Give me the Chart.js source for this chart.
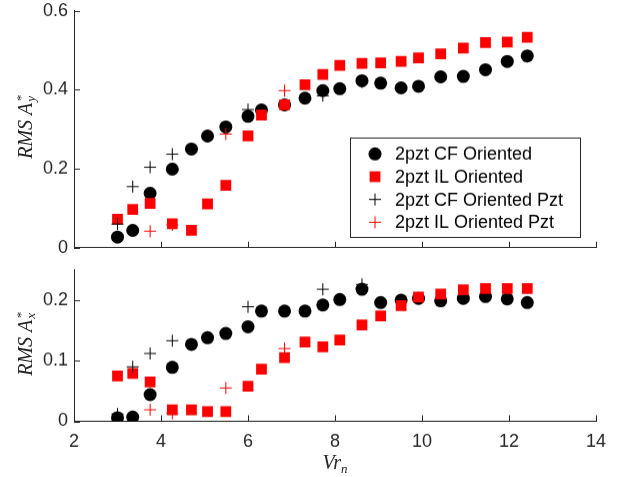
<!DOCTYPE html>
<html>
<head>
<meta charset="utf-8">
<script src="https://cdn.jsdelivr.net/npm/chart.js@4.4.0/dist/chart.umd.min.js"></script>
<style>
  html, body { margin: 0; padding: 0; background: #fff; }
  #wrap { position: relative; width: 621px; height: 477px; overflow: hidden; background: #fff; }
  .panel { position: absolute; left: 0; width: 621px; }
  .ttl { position: absolute; font-family: "Liberation Serif", "DejaVu Serif", serif; font-style: italic;
         font-size: 20px; color: #262626; white-space: nowrap; line-height: 1; }
  .rot { transform: translate(-50%, -50%) rotate(-90deg); }
  .ss { display: inline-block; vertical-align: -3px; font-size: 13px; line-height: 10px; margin-left: 1px; }
  .ss span { display: block; }
  .sub { font-size: 13px; vertical-align: -4px; }
</style>
</head>
<body>
<div id="wrap">
  <div class="panel" style="top:-6.3px;height:272.8px"><canvas id="top"></canvas></div>
  <div class="panel" style="top:253.2px;height:223.8px"><canvas id="bottom"></canvas></div>
  <div class="ttl rot" style="left:25px;top:127px">RMS&nbsp;A<span class="ss"><span>*</span><span>y</span></span></div>
  <div class="ttl rot" style="left:25px;top:344px">RMS&nbsp;A<span class="ss"><span>*</span><span>x</span></span></div>
  <div class="ttl" style="left:235px;width:200px;top:452px;text-align:center">Vr<span class="sub">n</span></div>
</div>
<script>
// x positions (Vr_n) of the main series
const vr = [3.0, 3.35, 3.75, 4.26, 4.70, 5.07, 5.49, 6.0, 6.31, 6.84, 7.31, 7.72, 8.11, 8.62, 9.05, 9.52, 9.92, 10.43, 10.95, 11.46, 11.96, 12.42];

// RMS A*_y (top panel)
const ayCF = [0.027, 0.044, 0.138, 0.199, 0.250, 0.283, 0.306, 0.333, 0.349, 0.362, 0.379, 0.398, 0.403, 0.423, 0.417, 0.405, 0.409, 0.433, 0.434, 0.451, 0.472, 0.486];
const ayIL = [0.072, 0.097, 0.112, 0.061, 0.044, 0.111, 0.158, 0.283, 0.336, 0.362, 0.413, 0.439, 0.462, 0.467, 0.468, 0.472, 0.481, 0.491, 0.506, 0.520, 0.521, 0.533];

// RMS A*_x (bottom panel)
const axCF = [0.006, 0.007, 0.044, 0.089, 0.127, 0.138, 0.145, 0.156, 0.182, 0.182, 0.182, 0.192, 0.201, 0.218, 0.196, 0.200, 0.203, 0.199, 0.203, 0.206, 0.202, 0.196];
const axIL = [0.075, 0.079, 0.065, 0.019, 0.019, 0.016, 0.016, 0.058, 0.086, 0.105, 0.131, 0.123, 0.134, 0.159, 0.174, 0.191, 0.205, 0.210, 0.217, 0.219, 0.219, 0.219];

// Pzt runs
const vrPztCF = [3.0, 3.35, 3.75, 4.26, 6.0, 7.72, 8.62];
const ayPztCF = [0.060, 0.155, 0.204, 0.237, 0.350, 0.385, 0.420];
const axPztCF = [0.012, 0.090, 0.112, 0.133, 0.189, 0.218, 0.226];
const vrPztIL = [3.75, 4.26, 5.49, 6.84];
const ayPztIL = [0.042, 0.058, 0.288, 0.398];
const axPztIL = [0.019, 0.013, 0.055, 0.120];

const seriesNames = ['2pzt CF Oriented', '2pzt IL Oriented', '2pzt CF Oriented Pzt', '2pzt IL Oriented Pzt'];
const xTicks = [2, 4, 6, 8, 10, 12, 14];
const yTicksTop = [0, 0.2, 0.4, 0.6];
const yTicksBottom = [0, 0.1, 0.2];

const AXIS = '#262626';
const FONT = { family: '"Liberation Sans", Arial, sans-serif', size: 18 };

const pts = (xs, ys) => xs.map((x, i) => ({ x, y: ys[i] }));

function makeSets(cf, il, pcf, pil) {
  return [
    { label: seriesNames[0], data: pts(vr, cf), pointStyle: 'circle', pointRadius: 6.5,
      backgroundColor: '#000', borderColor: '#000', borderWidth: 0, order: 4 },
    { label: seriesNames[1], data: pts(vr, il), pointStyle: 'rect', pointRadius: 7.6,
      backgroundColor: '#ff0000', borderColor: '#ff0000', borderWidth: 0, order: 3 },
    { label: seriesNames[2], data: pts(vrPztCF, pcf), pointStyle: 'cross', pointRadius: 6,
      backgroundColor: '#000', borderColor: '#000', borderWidth: 1, order: 2 },
    { label: seriesNames[3], data: pts(vrPztIL, pil), pointStyle: 'cross', pointRadius: 6,
      backgroundColor: '#ff0000', borderColor: '#ff0000', borderWidth: 1, order: 1 }
  ];
}

// MATLAB style inward tick marks
const inTicks = {
  id: 'inTicks',
  beforeDatasetsDraw(chart) {
    const ctx = chart.ctx, a = chart.chartArea, L = 6;
    ctx.save();
    ctx.strokeStyle = AXIS; ctx.lineWidth = 1;
    ctx.beginPath();
    chart.scales.x.ticks.forEach(t => {
      const px = Math.round(chart.scales.x.getPixelForValue(t.value)) + 0.5;
      ctx.moveTo(px, a.bottom); ctx.lineTo(px, a.bottom - L);
    });
    chart.scales.y.ticks.forEach(t => {
      const py = Math.round(chart.scales.y.getPixelForValue(t.value)) + 0.5;
      ctx.moveTo(a.left, py); ctx.lineTo(a.left + L, py);
    });
    ctx.stroke();
    ctx.restore();
  }
};

// boxed legend placed inside the plot area
const boxLegend = {
  id: 'boxLegend',
  afterDraw(chart, args, opts) {
    if (!opts.show) return;
    const ctx = chart.ctx, a = chart.chartArea;
    const x0 = a.left + opts.dx, y0 = a.top + opts.dy;
    ctx.save();
    ctx.fillStyle = '#fff';
    ctx.fillRect(x0, y0, opts.w, opts.h);
    ctx.strokeStyle = AXIS; ctx.lineWidth = 1;
    ctx.strokeRect(Math.round(x0) + 0.5, Math.round(y0) + 0.5, opts.w, opts.h);
    chart.data.datasets.forEach((ds, i) => {
      const cy = y0 + opts.first + i * opts.step;
      ctx.fillStyle = ds.backgroundColor; ctx.strokeStyle = ds.borderColor;
      ctx.lineWidth = ds.borderWidth || 1;
      Chart.helpers.drawPoint(ctx, { pointStyle: ds.pointStyle, radius: ds.pointRadius, rotation: 0,
        borderWidth: ds.borderWidth }, x0 + 25, cy);
      ctx.fillStyle = '#000';
      ctx.font = `${FONT.size}px ${FONT.family}`;
      ctx.textBaseline = 'middle';
      ctx.fillText(ds.label, x0 + 45, cy + 1);
    });
    ctx.restore();
  }
};

function makeChart(id, sets, yMax, yTicks, showX, xHeight, legend) {
  return new Chart(document.getElementById(id), {
    type: 'scatter',
    data: { datasets: sets },
    options: {
      responsive: true, maintainAspectRatio: false, animation: false,
      layout: { padding: { top: 0, right: 25, left: 0, bottom: 0 } },
      plugins: { legend: { display: false }, tooltip: { enabled: false }, boxLegend: legend },
      scales: {
        x: {
          type: 'linear', min: 2, max: 14,
          afterBuildTicks: s => { s.ticks = xTicks.map(v => ({ value: v })); },
          afterFit: s => { s.height = xHeight; },
          grid: { display: false, drawTicks: false },
          border: { display: true, color: AXIS, width: 1 },
          ticks: { display: showX, color: AXIS, font: FONT, padding: 10, maxRotation: 0 }
        },
        y: {
          type: 'linear', min: 0, max: yMax,
          afterBuildTicks: s => { s.ticks = yTicks.map(v => ({ value: v })); },
          afterFit: s => { s.width = 74; },
          grid: { display: false, drawTicks: false },
          border: { display: true, color: AXIS, width: 1 },
          ticks: { color: AXIS, font: FONT, padding: 6 }
        }
      }
    },
    plugins: [inTicks, boxLegend]
  });
}

makeChart('top', makeSets(ayCF, ayIL, ayPztCF, ayPztIL), 0.6, yTicksTop, false, 20,
  { show: true, dx: 276, dy: 126.5, w: 230, h: 99, first: 16, step: 22.7 });
makeChart('bottom', makeSets(axCF, axIL, axPztCF, axPztIL), 0.25, yTicksBottom, true, 56.3,
  { show: false });
</script>
</body>
</html>
